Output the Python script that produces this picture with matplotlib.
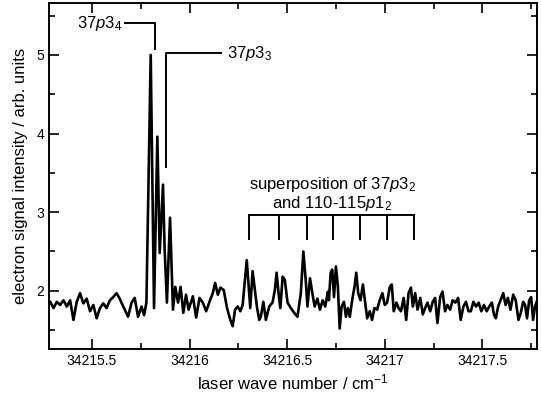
import matplotlib.pyplot as plt

plt.rcParams["font.family"] = ["Liberation Sans", "DejaVu Sans"]
plt.rcParams["mathtext.fontset"] = "custom"
plt.rcParams["mathtext.rm"] = "Liberation Sans"
plt.rcParams["mathtext.it"] = "Liberation Sans:italic"

# trace (wave number in cm^-1, signal in arb. units)
wavenumber = [
    34215.286, 34215.303, 34215.320, 34215.337, 34215.354, 34215.371, 34215.388,
    34215.405, 34215.422, 34215.439, 34215.456, 34215.473, 34215.490, 34215.507,
    34215.524, 34215.541, 34215.558, 34215.575, 34215.592, 34215.609, 34215.626,
    34215.640, 34215.651, 34215.668, 34215.685, 34215.703, 34215.719, 34215.736,
    34215.754, 34215.767, 34215.779, 34215.801, 34215.818, 34215.835, 34215.847,
    34215.864, 34215.872, 34215.884, 34215.900, 34215.915, 34215.927, 34215.941,
    34215.954, 34215.968, 34215.982, 34215.995, 34216.017, 34216.034, 34216.051,
    34216.068, 34216.085, 34216.102, 34216.119, 34216.131, 34216.145, 34216.158,
    34216.175, 34216.192, 34216.209, 34216.221, 34216.233, 34216.247, 34216.260,
    34216.272, 34216.284, 34216.293, 34216.303, 34216.311, 34216.323, 34216.335,
    34216.345, 34216.357, 34216.365, 34216.378, 34216.391, 34216.408, 34216.425,
    34216.437, 34216.446, 34216.456, 34216.465, 34216.477, 34216.488, 34216.502,
    34216.519, 34216.536, 34216.553, 34216.570, 34216.583, 34216.595, 34216.604,
    34216.617, 34216.629, 34216.641, 34216.655, 34216.668, 34216.682, 34216.695,
    34216.709, 34216.714, 34216.723, 34216.731, 34216.740, 34216.750, 34216.760,
    34216.769, 34216.779, 34216.791, 34216.801, 34216.811, 34216.821, 34216.833,
    34216.845, 34216.854, 34216.864, 34216.876, 34216.888, 34216.900, 34216.910,
    34216.923, 34216.935, 34216.947, 34216.961, 34216.974, 34216.988, 34217.000,
    34217.012, 34217.026, 34217.036, 34217.046, 34217.060, 34217.071, 34217.083,
    34217.097, 34217.110, 34217.122, 34217.134, 34217.144, 34217.156, 34217.168,
    34217.182, 34217.195, 34217.207, 34217.219, 34217.233, 34217.246, 34217.258,
    34217.270, 34217.284, 34217.296, 34217.309, 34217.321, 34217.335, 34217.348,
    34217.362, 34217.376, 34217.389, 34217.403, 34217.416, 34217.429, 34217.441,
    34217.454, 34217.468, 34217.481, 34217.495, 34217.508, 34217.522, 34217.535,
    34217.549, 34217.559, 34217.569, 34217.581, 34217.593, 34217.607, 34217.619,
    34217.631, 34217.644, 34217.658, 34217.671, 34217.685, 34217.697, 34217.709,
    34217.719, 34217.729, 34217.740, 34217.750, 34217.760, 34217.770, 34217.781,
]
signal = [
    1.86, 1.78, 1.86, 1.82, 1.88, 1.80, 1.88,
    1.63, 1.86, 1.97, 1.84, 1.90, 1.74, 1.82,
    1.65, 1.78, 1.84, 1.78, 1.88, 1.92, 1.97,
    1.91, 1.85, 1.76, 1.67, 1.85, 1.91, 1.67,
    1.80, 1.69, 1.85, 5.00, 1.78, 3.96, 2.48,
    3.35, 2.55, 1.85, 2.93, 1.76, 2.05, 1.85,
    2.05, 1.72, 1.95, 1.76, 1.93, 1.66, 1.91,
    1.85, 1.74, 1.86, 1.97, 2.10, 1.95, 2.04,
    2.01, 1.78, 1.63, 1.55, 1.76, 1.80, 1.74,
    1.82, 2.14, 2.39, 2.05, 1.78, 2.25, 2.01,
    1.80, 1.63, 1.67, 1.86, 1.63, 1.80, 1.85,
    2.01, 2.23, 1.97, 1.78, 2.18, 2.14, 1.85,
    1.78, 1.72, 1.67, 1.97, 2.50, 2.14, 1.80,
    2.16, 1.97, 1.80, 1.90, 1.76, 1.88, 1.80,
    1.99, 1.88, 2.23, 2.27, 1.92, 2.31, 2.05,
    1.52, 1.80, 1.86, 1.67, 1.78, 1.67, 1.88,
    2.05, 2.23, 1.97, 1.88, 2.08, 1.85, 1.65,
    1.74, 1.63, 1.78, 1.76, 1.88, 1.97, 1.82,
    1.85, 2.05, 2.08, 1.74, 1.85, 1.78, 1.74,
    1.91, 1.63, 1.97, 2.04, 1.80, 1.97, 1.76,
    1.91, 1.70, 1.78, 1.85, 1.74, 1.86, 1.91,
    1.59, 1.92, 1.99, 1.74, 1.82, 1.76, 1.88,
    1.85, 1.91, 1.63, 1.80, 1.86, 1.74, 1.74,
    1.86, 1.80, 1.85, 1.74, 1.82, 1.74, 1.80,
    1.85, 1.70, 1.65, 1.80, 1.88, 1.97, 1.82,
    1.91, 1.76, 1.95, 1.88, 1.63, 1.72, 1.86,
    1.82, 1.65, 1.88, 1.92, 1.63, 1.80, 1.88,
]

# line positions for the 37p3_2 / 110-115p1_2 comb
superposition_lines = [34216.306, 34216.459, 34216.602, 34216.735,
                       34216.872, 34217.010, 34217.148]

fig = plt.figure(figsize=(5.41, 3.96), dpi=100)
ax = fig.add_axes([0.0906, 0.1187, 0.902, 0.8737])

ax.plot(wavenumber, signal, color="black", lw=1.9)

lw = 1.4
# 37p3_4 label
ax.plot([34215.668, 34215.821, 34215.821], [5.40, 5.40, 5.07], color="black", lw=lw)
ax.text(34215.655, 5.40, r"37$\it{p}$3$_4$", ha="right", va="center", fontsize=12)
# 37p3_3 label
ax.plot([34215.881, 34215.881, 34216.162], [3.57, 5.02, 5.02], color="black", lw=lw)
ax.text(34216.19, 5.02, r"37$\it{p}$3$_3$", ha="left", va="center", fontsize=12)

# comb
ax.plot([superposition_lines[0], superposition_lines[-1]], [2.97, 2.97], color="black", lw=lw)
for xl in superposition_lines:
    ax.plot([xl, xl], [2.97, 2.66], color="black", lw=lw)
ax.text(34216.73, 3.35, r"superposition of 37$\it{p}$3$_2$", ha="center", va="center", fontsize=12)
ax.text(34216.73, 3.11, r"and 110-115$\it{p}$1$_2$", ha="center", va="center", fontsize=12)

ax.set_xlim(34215.28, 34217.78)
ax.set_ylim(1.26, 5.66)
ax.set_xticks([34215.5, 34216, 34216.5, 34217, 34217.5])
ax.set_xticklabels(["34215.5", "34216", "34216.5", "34217", "34217.5"])
ax.set_xticks([34215.75, 34216.25, 34216.75, 34217.25, 34217.75], minor=True)
ax.set_yticks([2, 3, 4, 5])
ax.set_yticks([1.5, 2.5, 3.5, 4.5, 5.5], minor=True)
ax.tick_params(which="both", direction="in", top=True, right=True, labelsize=10, width=1.2)
ax.tick_params(which="major", length=7)
ax.tick_params(which="minor", length=4)
for s in ax.spines.values():
    s.set_linewidth(1.4)

ax.set_xlabel(r"laser wave number / cm$^{-1}$", fontsize=12, labelpad=3)
ax.set_ylabel("electron signal intensity / arb. units", fontsize=12, labelpad=6)

fig.savefig("out.png", dpi=100)
